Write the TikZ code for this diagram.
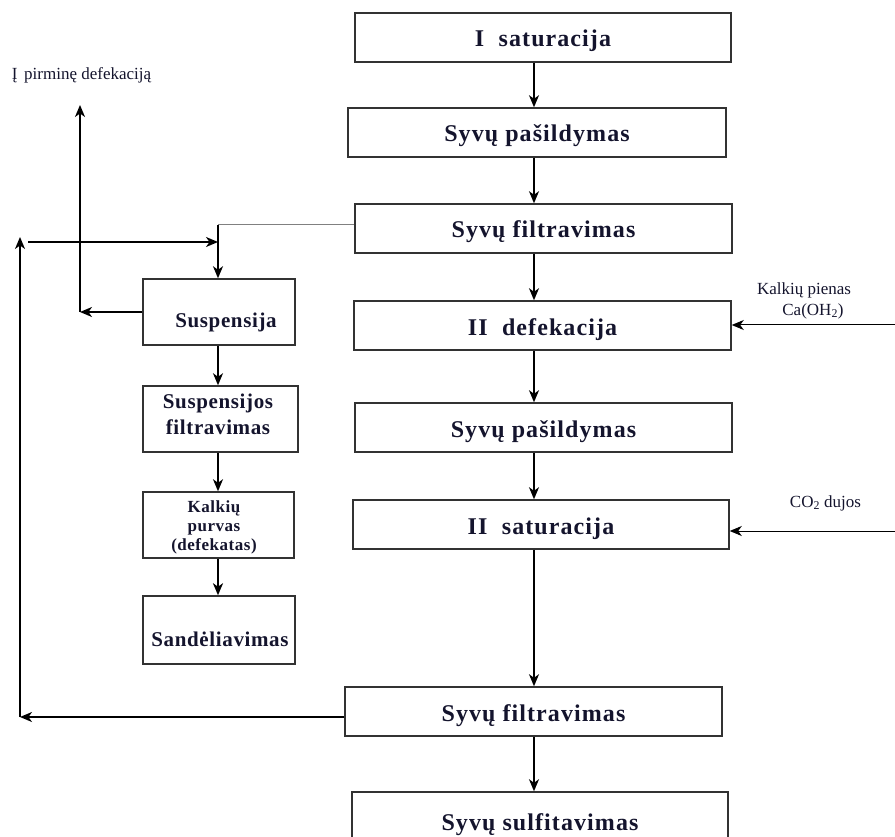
\documentclass[tikz,border=0pt]{standalone}
\usepackage{fontspec}
\setmainfont{Liberation Serif}
\newfontfamily\boxfont{Liberation Serif}[LetterSpace=4.5]
\newfontfamily\leftfont{Liberation Serif}[LetterSpace=3]
\usetikzlibrary{arrows.meta}
\definecolor{txt}{RGB}{20,20,45}
\definecolor{frame}{RGB}{50,50,50}
\begin{document}
\begin{tikzpicture}[x=1pt,y=-1pt,
  mainbox/.style={draw=frame,line width=1.5pt,minimum height=49pt,inner sep=0pt,text=txt,
    text height=19pt,text depth=0pt,
    font=\boxfont\bfseries\fontsize{24}{28}\selectfont},
  sidebox/.style={draw=frame,line width=1.5pt,inner sep=0pt},
  sidetext/.style={text=txt,font=\leftfont\bfseries\fontsize{21}{26}\selectfont,align=center,inner sep=0pt},
  lbl/.style={text=txt,font=\fontsize{17}{19}\selectfont,inner sep=0pt,align=center},
  arr/.style={line width=1.4pt,-{Stealth[length=12pt,width=10pt,inset=3.5pt]}}]
\useasboundingbox (0,0) rectangle (895,837);
\clip (0,0) rectangle (895,837);

% main column
\node[mainbox,minimum width=376pt] (b1) at (543,37.5) {I\hspace{0.6em}saturacija};
\node[mainbox,minimum width=378pt] (b2) at (537,132.5) {Syvų pašildymas};
\node[mainbox,minimum width=377pt] (b3) at (543.5,228.5) {Syvų filtravimas};
\node[mainbox,minimum width=377pt] (b4) at (542.5,325.5) {II\hspace{0.6em}defekacija};
\node[mainbox,minimum width=377pt] (b5) at (543.5,427.5) {Syvų pašildymas};
\node[mainbox,minimum width=376pt] (b6) at (541,524.5) {II\hspace{0.6em}saturacija};
\node[mainbox,minimum width=377pt] (b7) at (533.5,711.5) {Syvų filtravimas};
\node[mainbox,minimum width=376pt,minimum height=58pt] (b8) at (540,821) {Syvų sulfitavimas};

\coordinate (ax) at (534,0);
\foreach \a/\b in {b1/b2,b2/b3,b3/b4,b4/b5,b5/b6,b6/b7,b7/b8}
  \draw[arr] (\a.south -| ax) -- (\b.north -| ax);

% right inputs
\node[lbl] (kp) at (804,290) {Kalkių pienas};
\node[lbl] (ca) at (813,311) {Ca(OH\textsubscript{2})};
\node[lbl] (co) at (825.5,503) {CO\textsubscript{2} dujos};
\coordinate (kin) at (895,325);
\coordinate (coin) at (895,531);
\draw[arr,line width=1pt] (kin) -- (kin -| b4.east);
\draw[arr,line width=1pt] (coin) -- (coin -| b6.east);

% left column
\node[sidebox,minimum width=152pt,minimum height=66pt] (s1) at (219,312) {};
\node[sidetext] (t1) at (226,322) {Suspensija};
\node[sidebox,minimum width=155pt,minimum height=66pt] (s2) at (220.5,419) {};
\node[sidetext] (t2) at (218,414) {Suspensijos\\filtravimas};
\node[sidebox,minimum width=151pt,minimum height=66pt] (s3) at (218.5,525) {};
\node[sidetext,font=\leftfont\bfseries\fontsize{17}{19}\selectfont] (t3) at (214,527) {Kalkių\\purvas\\(defekatas)};
\node[sidebox,minimum width=152pt,minimum height=68pt] (s4) at (219,630) {};
\node[sidetext] (t4) at (220,639) {Sandėliavimas};

\coordinate (lx) at (218,0);
\draw[arr] (s1.south -| lx) -- (s2.north -| lx);
\draw[arr] (s2.south -| lx) -- (s3.north -| lx);
\draw[arr,line width=2.2pt] (s3.south -| lx) -- (s4.north -| lx);

% top-left connections
\node[lbl] (pd) at (81.5,75) {Į\hspace{0.4em}pirminę defekaciją};
\coordinate (j1) at (218,225);
\draw[gray,line width=1pt] (b3.west |- j1) -- (j1);
\draw[arr] (j1) -- (s1.north -| j1);
\coordinate (r1) at (28,242);
\draw[arr] (r1) -- (r1 -| lx);
\coordinate (u1) at (80,312);
\coordinate (u2) at (80,105);
\draw[arr] (s1.west) -- (u1);
\draw[arr] (u1) -- (u2);

% return from bottom filtration
\coordinate (d1) at (20,717);
\coordinate (d2) at (20,237);
\draw[arr] (b7.west |- d1) -- (d1);
\draw[arr] (d1) -- (d2);
\end{tikzpicture}
\end{document}
